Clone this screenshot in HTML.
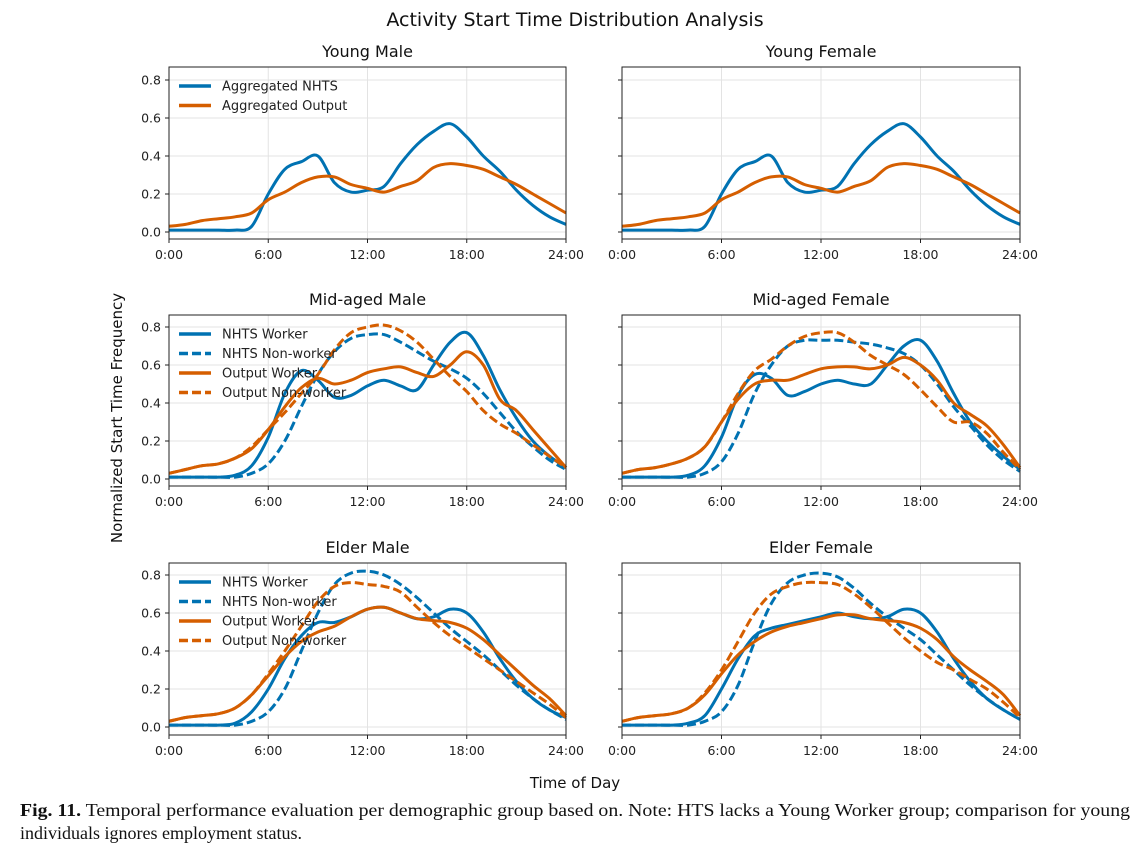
<!DOCTYPE html>
<html><head><meta charset="utf-8"><style>
body{margin:0;background:#fff;width:1147px;height:855px;overflow:hidden;font-family:"DejaVu Sans","Liberation Sans",sans-serif}
svg{position:absolute;left:0;top:0}
.cap{position:absolute;left:20px;top:799px;width:1110px;font-family:"Liberation Serif",serif;font-size:18px;line-height:23px;color:#111}
.l1{display:inline-block;white-space:nowrap;transform-origin:0 0}
</style></head><body>
<svg id="chart" width="1147" height="800"></svg>
<div class="cap"><span class="l1" id="l1"><b>Fig. 11.</b> Temporal performance evaluation per demographic group based on. Note: HTS lacks a Young Worker group; comparison for young</span><br>individuals ignores employment status.</div>
<script>
const hours=[0,1,2,3,4,5,6,7,8,9,10,11,12,13,14,15,16,17,18,19,20,21,22,23,24];
const xTickLabels=["0:00","6:00","12:00","18:00","24:00"];
const yTickLabels=["0.0","0.2","0.4","0.6","0.8"];
const youngNHTS=[.01,.01,.01,.01,.01,.03,.2,.33,.37,.40,.26,.21,.22,.24,.36,.46,.53,.57,.50,.40,.32,.22,.14,.08,.04];
const youngOutput=[.03,.04,.06,.07,.08,.10,.17,.21,.26,.29,.29,.25,.23,.21,.24,.27,.34,.36,.35,.33,.29,.25,.20,.15,.10];
const midMaleNW=[.01,.01,.01,.01,.02,.07,.22,.45,.57,.52,.43,.44,.49,.52,.49,.47,.6,.72,.77,.65,.47,.32,.2,.12,.06];
const midMaleNN=[.01,.01,.01,.01,.01,.03,.08,.2,.38,.55,.67,.74,.76,.76,.72,.67,.62,.58,.53,.45,.35,.25,.17,.1,.05];
const midMaleOW=[.03,.05,.07,.08,.11,.16,.26,.38,.48,.53,.5,.52,.56,.58,.59,.56,.54,.6,.67,.6,.42,.36,.26,.16,.06];
const midMaleON=[.03,.05,.07,.08,.11,.17,.26,.35,.45,.55,.68,.77,.8,.81,.78,.72,.63,.54,.46,.36,.29,.24,.18,.12,.06];
const midFemNW=[.01,.01,.01,.01,.02,.07,.22,.44,.55,.53,.44,.46,.5,.52,.5,.5,.6,.7,.73,.62,.45,.3,.2,.12,.05];
const midFemNN=[.01,.01,.01,.01,.01,.03,.09,.24,.45,.6,.7,.73,.73,.73,.72,.71,.69,.66,.6,.5,.38,.28,.18,.1,.04];
const midFemOW=[.03,.05,.06,.08,.11,.17,.3,.42,.5,.52,.52,.55,.58,.59,.59,.58,.6,.64,.6,.52,.4,.34,.28,.18,.06];
const midFemON=[.03,.05,.06,.08,.11,.17,.3,.45,.57,.63,.7,.75,.77,.77,.72,.65,.6,.55,.47,.38,.3,.3,.24,.14,.05];
const eldMaleNW=[.01,.01,.01,.01,.02,.08,.2,.36,.48,.55,.55,.58,.62,.63,.6,.57,.58,.62,.6,.5,.36,.24,.15,.09,.05];
const eldMaleNN=[.01,.01,.01,.01,.01,.03,.08,.2,.4,.6,.75,.81,.82,.8,.75,.68,.6,.52,.45,.38,.3,.22,.15,.09,.04];
const eldMaleOW=[.03,.05,.06,.07,.1,.17,.27,.37,.45,.5,.53,.58,.62,.63,.6,.57,.56,.55,.52,.46,.38,.3,.22,.15,.06];
const eldMaleON=[.03,.05,.06,.07,.1,.17,.28,.4,.53,.66,.74,.76,.75,.74,.71,.63,.55,.48,.42,.36,.3,.24,.18,.12,.05];
const eldFemNW=[.01,.01,.01,.01,.02,.06,.2,.36,.48,.52,.54,.56,.58,.6,.58,.57,.58,.62,.6,.5,.36,.24,.15,.09,.04];
const eldFemNN=[.01,.01,.01,.01,.01,.03,.08,.22,.45,.65,.76,.8,.81,.79,.73,.65,.58,.52,.46,.38,.3,.22,.15,.09,.04];
const eldFemOW=[.03,.05,.06,.07,.1,.17,.28,.38,.45,.5,.53,.55,.57,.59,.59,.57,.56,.55,.52,.46,.37,.3,.24,.17,.06];
const eldFemON=[.03,.05,.06,.07,.1,.18,.3,.45,.6,.7,.74,.76,.76,.75,.7,.63,.55,.47,.4,.34,.3,.25,.2,.13,.05];

const BLUE="#0072b2",ORANGE="#d55e00";
const NS="http://www.w3.org/2000/svg";
const svg=document.getElementById('chart');
function el(tag,attrs,parent){const e=document.createElementNS(NS,tag);for(const k in attrs)e.setAttribute(k,attrs[k]);(parent||svg).appendChild(e);return e;}
function txt(s,attrs,parent){const t=el('text',attrs,parent);t.textContent=s;return t;}

const l1=document.getElementById('l1');
const w=l1.getBoundingClientRect().width;
l1.style.transform='scaleX('+(1110/w)+')';

const panels=[
 {title:"Young Male",x0:169,x1:566,top:67,bot:239,yz:232,y8:80,labels:true,name:"young-male",
  series:[[youngNHTS,BLUE,false,"Aggregated NHTS"],[youngOutput,ORANGE,false,"Aggregated Output"]]},
 {title:"Young Female",x0:622,x1:1020,top:67,bot:239,yz:232,y8:80,labels:false,name:"young-female",
  series:[[youngNHTS,BLUE,false],[youngOutput,ORANGE,false]]},
 {title:"Mid-aged Male",x0:169,x1:566,top:315,bot:486,yz:479,y8:327,labels:true,name:"mid-aged-male",
  series:[[midMaleNW,BLUE,false,"NHTS Worker"],[midMaleNN,BLUE,true,"NHTS Non-worker"],[midMaleOW,ORANGE,false,"Output Worker"],[midMaleON,ORANGE,true,"Output Non-worker"]]},
 {title:"Mid-aged Female",x0:622,x1:1020,top:315,bot:486,yz:479,y8:327,labels:false,name:"mid-aged-female",
  series:[[midFemNW,BLUE,false],[midFemNN,BLUE,true],[midFemOW,ORANGE,false],[midFemON,ORANGE,true]]},
 {title:"Elder Male",x0:169,x1:566,top:563,bot:735,yz:727,y8:575,labels:true,name:"elder-male",
  series:[[eldMaleNW,BLUE,false,"NHTS Worker"],[eldMaleNN,BLUE,true,"NHTS Non-worker"],[eldMaleOW,ORANGE,false,"Output Worker"],[eldMaleON,ORANGE,true,"Output Non-worker"]]},
 {title:"Elder Female",x0:622,x1:1020,top:563,bot:735,yz:727,y8:575,labels:false,name:"elder-female",
  series:[[eldFemNW,BLUE,false],[eldFemNN,BLUE,true],[eldFemOW,ORANGE,false],[eldFemON,ORANGE,true]]}
];

function smoothPath(pts){
 let d="M"+pts[0][0].toFixed(1)+","+pts[0][1].toFixed(1);
 for(let i=0;i<pts.length-1;i++){
  const p0=pts[Math.max(0,i-1)],p1=pts[i],p2=pts[i+1],p3=pts[Math.min(pts.length-1,i+2)];
  const c1=[p1[0]+(p2[0]-p0[0])/6,p1[1]+(p2[1]-p0[1])/6];
  const c2=[p2[0]-(p3[0]-p1[0])/6,p2[1]-(p3[1]-p1[1])/6];
  d+=` C${c1[0].toFixed(1)},${c1[1].toFixed(1)} ${c2[0].toFixed(1)},${c2[1].toFixed(1)} ${p2[0].toFixed(1)},${p2[1].toFixed(1)}`;
 }
 return d;
}

panels.forEach(p=>{
 const g=el('g',{});
 
 
 const xs=h=>p.x0+(p.x1-p.x0)*h/24;
 const ys=v=>p.yz+(p.y8-p.yz)*v/0.8;
 const t=txt(p.title,{x:(p.x0+p.x1)/2,y:p.top-10,'text-anchor':'middle','font-size':16,fill:'#111'},g);
 
 
 xTickLabels.forEach((lb,i)=>{
  const x=xs(i*6);
  el('line',{x1:x,x2:x,y1:p.top,y2:p.bot,stroke:'#e3e3e3','stroke-width':1},g);
  el('line',{x1:x,x2:x,y1:p.bot,y2:p.bot+4,stroke:'#222'},g);
  const l=txt(lb,{x:x,y:p.bot+20,'text-anchor':'middle','font-size':12.5,fill:'#222'},g);
  
  
 });
 yTickLabels.forEach((lb,i)=>{
  const y=ys(i*0.2);
  el('line',{x1:p.x0,x2:p.x1,y1:y,y2:y,stroke:'#e3e3e3','stroke-width':1},g);
  el('line',{x1:p.x0-4,x2:p.x0,y1:y,y2:y,stroke:'#222'},g);
  if(p.labels){
   const l=txt(lb,{x:p.x0-8,y:y+4.5,'text-anchor':'end','font-size':12.5,fill:'#222'},g);
   
   
  }
 });
 p.series.forEach((s,si)=>{
  const pts=hours.map((h,i)=>[xs(h),ys(s[0][i])]);
  const path=el('path',{d:smoothPath(pts),fill:'none',stroke:s[1],'stroke-width':3,'stroke-dasharray':s[2]?'9,4':'none','stroke-linejoin':'round'},g);
  
  
 });
 el('rect',{x:p.x0,y:p.top,width:p.x1-p.x0,height:p.bot-p.top,fill:'none',stroke:'#222','stroke-width':1},g);
 p.series.forEach((s,si)=>{
  if(!s[3])return;
  const y=p.top+19+si*19.5;
  const lg=el('g',{},g);
  
  
  el('line',{x1:p.x0+10,x2:p.x0+42,y1:y,y2:y,stroke:s[1],'stroke-width':3.5,'stroke-dasharray':s[2]?'9,4':'none'},lg);
  txt(s[3],{x:p.x0+53,y:y+4.5,'font-size':13,fill:'#222'},lg);
 });
});
const mt=txt("Activity Start Time Distribution Analysis",{x:575,y:26,'text-anchor':'middle','font-size':19,fill:'#111'});


const yl=txt("Normalized Start Time Frequency",{x:0,y:0,'text-anchor':'middle','font-size':15,fill:'#111',transform:'translate(122,418) rotate(-90)'});


const xl=txt("Time of Day",{x:575,y:788,'text-anchor':'middle','font-size':15,fill:'#111'});


</script>
</body></html>
